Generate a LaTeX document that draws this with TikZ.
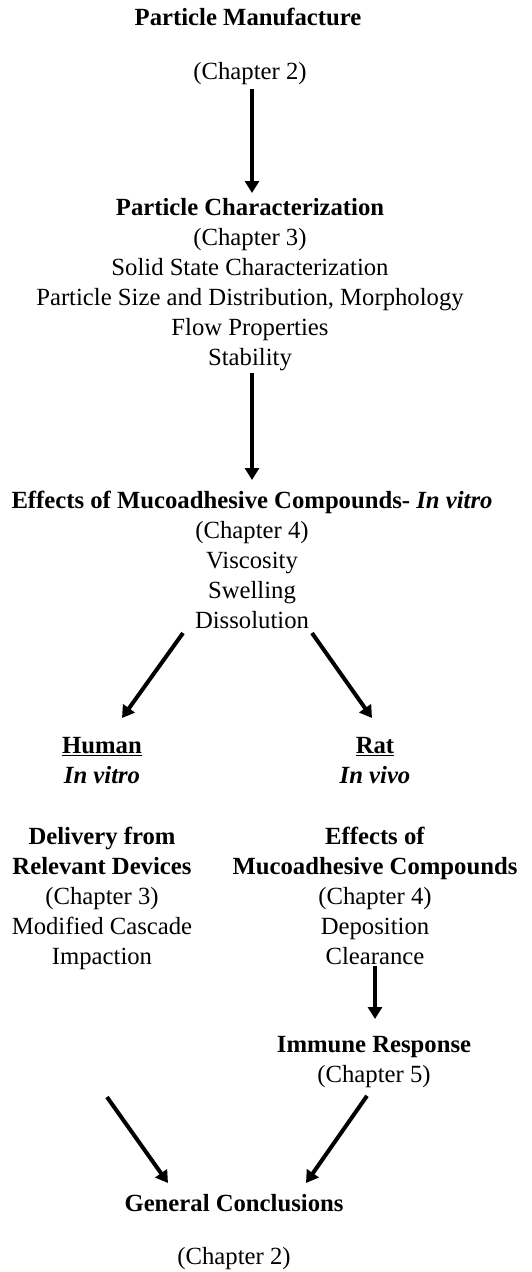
\documentclass[tikz,border=0pt]{standalone}
\usepackage{fontspec}
\setmainfont{Liberation Serif}
\usepackage{tikz}
\usetikzlibrary{arrows.meta,positioning}

\begin{document}
\begin{tikzpicture}[x=1pt,y=-1pt,
    txt/.style={anchor=north,inner sep=0pt,align=center,
      font=\fontsize{24.7}{30}\selectfont},
    arr/.style={line width=4pt,-{Triangle[length=12pt,width=14pt]}}]
  \useasboundingbox (0,0) rectangle (531,1272);
  % top chain
  \node[txt] (manuf) at (248,8) {\textbf{Particle Manufacture}};
  \node[txt] (manufch) at (250,62) {(Chapter 2)};
  \node[txt] (pchar) at (250,198) {\textbf{Particle Characterization}\\
    (Chapter 3)\\ Solid State Characterization\\
    Particle Size and Distribution, Morphology\\
    Flow Properties\\ Stability};
  \node[txt] (invitro) at (252,491) {\textbf{Effects of Mucoadhesive Compounds- \textit{In vitro}}\\
    (Chapter 4)\\ Viscosity\\ Swelling\\ Dissolution};
  % two branches
  \node[txt] (human) at (102,737) {\textbf{\underline{Human}}\\ \textbf{\textit{In vitro}}};
  \node[txt] (rat) at (375,737) {\textbf{\underline{Rat}}\\ \textbf{\textit{In vivo}}};
  \node[txt] (deliv) at (102,827) {\textbf{Delivery from}\\ \textbf{Relevant Devices}\\
    (Chapter 3)\\ Modified Cascade\\ Impaction};
  \node[txt] (rateff) at (375,827) {\textbf{Effects of}\\ \textbf{Mucoadhesive Compounds}\\
    (Chapter 4)\\ Deposition\\ Clearance};
  \node[txt] (immune) at (374,1036) {\textbf{Immune Response}\\ (Chapter 5)};
  \node[txt] (concl) at (234,1194) {\textbf{General Conclusions}};
  \node[txt] (conclch) at (234,1247) {(Chapter 2)};
  % arrows
  \draw[arr,shorten <=4pt,shorten >=5pt] ([xshift=2pt]manufch.south) -- ([xshift=2pt]manufch.south |- pchar.north);
  \draw[arr,shorten <=2pt,shorten >=11pt] ([xshift=2pt]pchar.south) -- ([xshift=2pt]pchar.south |- invitro.north);
  \draw[arr] ([xshift=-69pt,yshift=-4pt]invitro.south) -- ([xshift=20pt,yshift=19pt]human.north);
  \draw[arr] ([xshift=60pt,yshift=-4pt]invitro.south) -- ([xshift=-3pt,yshift=19pt]rat.north);
  \draw[arr,shorten <=1pt,shorten >=17pt] (rateff.south) -- (rateff.south |- immune.north);
  \draw[arr] ([xshift=5pt,yshift=-127pt]deliv.south) -- ([xshift=-66pt,yshift=11pt]concl.north);
  \draw[arr] ([xshift=-7pt,yshift=-8pt]immune.south) -- ([xshift=72pt,yshift=11pt]concl.north);
\end{tikzpicture}
\end{document}
